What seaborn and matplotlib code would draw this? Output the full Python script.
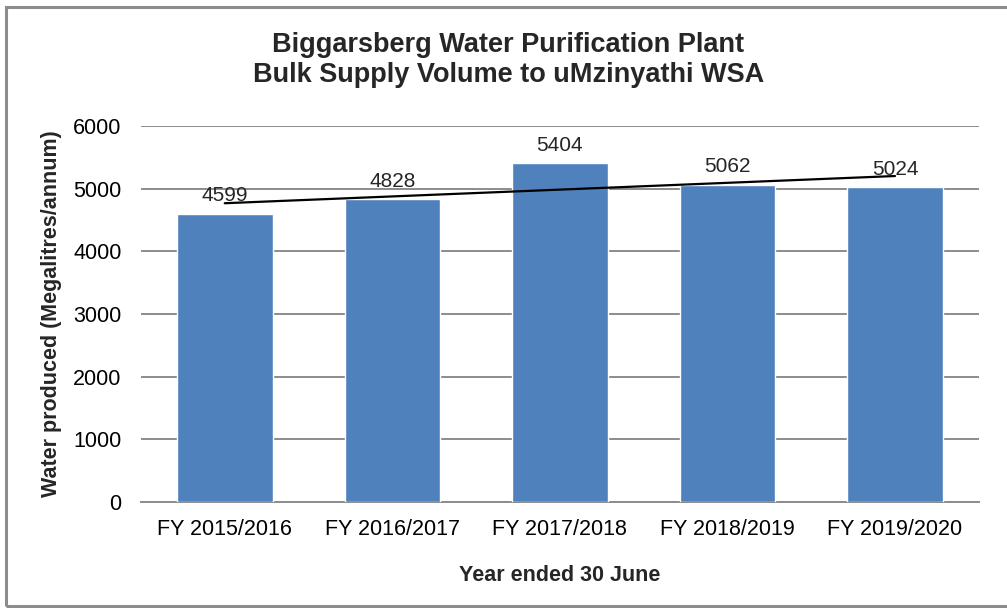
import numpy as np
import pandas as pd
import seaborn as sns
import matplotlib.pyplot as plt
from matplotlib.patches import Rectangle

# data
years = ["FY 2015/2016", "FY 2016/2017", "FY 2017/2018", "FY 2018/2019", "FY 2019/2020"]
volumes = [4599, 4828, 5404, 5062, 5024]
y_ticks = [0, 1000, 2000, 3000, 4000, 5000, 6000]

title = "Biggarsberg Water Purification Plant\nBulk Supply Volume to uMzinyathi WSA"
x_label = "Year ended 30 June"
y_label = "Water produced (Megalitres/annum)"

df = pd.DataFrame({"year": years, "volume": volumes})

sns.set_style("white")
plt.rcParams['font.family'] = ['Liberation Sans', 'DejaVu Sans']

fig = plt.figure(figsize=(10.07, 6.08), dpi=100)
ax = fig.add_axes([0.140, 0.174, 0.832, 0.619])

sns.barplot(data=df, x="year", y="volume", color="#4F81BD", saturation=1,
            width=0.57, ax=ax, zorder=3)

# linear trendline across the category centres (Excel style)
xs = np.arange(len(volumes))
slope, intercept = np.polyfit(xs, volumes, 1)
ax.plot([xs[0], xs[-1]], [intercept, slope * xs[-1] + intercept],
        color="black", lw=1.6, zorder=4)

for i, v in enumerate(volumes):
    ax.annotate(str(v), (i, v), xytext=(0, 6), textcoords="offset points",
                ha="center", va="bottom", fontsize=15, zorder=5)

ax.set_ylim(0, 6000)
ax.set_xlim(-0.5, len(years) - 0.5)
ax.set_yticks(y_ticks)
ax.yaxis.grid(True, color="#8c8c8c", lw=1.4, zorder=0)
ax.set_axisbelow(True)
for s in ["top", "right", "left"]:
    ax.spines[s].set_visible(False)
ax.spines["bottom"].set_color("#8c8c8c")
ax.spines["bottom"].set_linewidth(1.4)
ax.tick_params(axis="both", length=0, labelsize=15.5, colors="black")
ax.tick_params(axis="x", pad=12)
ax.tick_params(axis="y", pad=14)

ax.set_xlabel(x_label, fontsize=15.5, fontweight="bold", labelpad=18)
ax.set_ylabel(y_label, fontsize=15.5, fontweight="bold", labelpad=8)

fig.text(0.505, 0.901, title, ha="center", va="center", fontsize=19.5,
         fontweight="bold", linespacing=1.2)

# grey chart frame
fig.patches.append(Rectangle((0.006, 0.003), 1.1, 0.985, transform=fig.transFigure,
                             fill=False, edgecolor="#8c8c8c", lw=2.2))

fig.savefig("out.png", dpi=100)
